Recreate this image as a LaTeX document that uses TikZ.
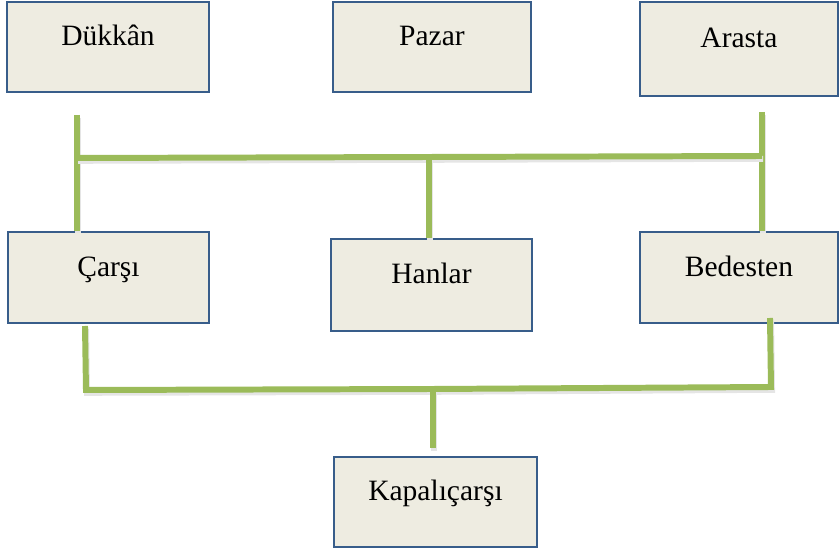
\documentclass[tikz,border=0pt]{standalone}
\usepackage{fontspec}
\setmainfont{Liberation Serif}
\usepackage{tikz}
\usepackage{xcolor}
\definecolor{boxfill}{HTML}{EEECE1}
\definecolor{boxline}{HTML}{385D8A}
\definecolor{barline}{HTML}{9BBB59}

\begin{document}
\begin{tikzpicture}[x=0.02cm, y=-0.02cm,
    market/.style={draw=boxline, fill=boxfill, line width=1.5pt, inner sep=0pt,
        minimum width=4cm, minimum height=1.8cm, text height=0.5cm, text depth=0.54cm,
        font=\fontsize{16.8}{20}\selectfont},
    bar/.style={draw=barline, line width=3.4pt, line join=miter,
        preaction={draw=black!10, line width=3.4pt, transform canvas={xshift=0.6pt, yshift=-1.6pt}}}]
    \useasboundingbox (0, 0) rectangle (840, 550);
    \node[market, minimum width=4.04cm] (dukkan) at (108, 47) {Dükkân};
    \node[market, minimum width=3.96cm] (pazar) at (432, 47) {Pazar};
    \node[market, minimum width=3.96cm, minimum height=1.88cm] (arasta) at (739, 49) {Arasta};
    \node[market, minimum width=4.02cm, minimum height=1.82cm] (carsi) at (108.5, 277.5) {Çarşı};
    \node[market, minimum width=4.02cm, minimum height=1.84cm] (hanlar) at (431.5, 285) {Hanlar};
    \node[market, minimum width=3.96cm, minimum height=1.82cm] (bedesten) at (739, 277.5) {Bedesten};
    \node[market, minimum width=4.06cm] (kapali) at (435.5, 502) {Kapalıçarşı};

    \coordinate (dktop) at (77, 115);
    \coordinate (artop) at (762, 112);
    \coordinate (upl) at (77, 158);
    \coordinate (upm) at (429, 157);
    \coordinate (upr) at (762, 156);
    \draw[bar] (dktop) -- (dktop |- carsi.north);
    \draw[bar] (artop) -- (artop |- bedesten.north);
    \draw[bar] (upl) -- (upm) -- (upr);
    \draw[bar] (upm) -- (upm |- hanlar.north);

    \coordinate (csdrop) at (85, 326);
    \coordinate (bddrop) at (770, 318);
    \coordinate (lwl) at (86, 390);
    \coordinate (lwm) at (433, 389);
    \coordinate (lwr) at (771, 387);
    \coordinate (kptop) at (433, 448);
    \draw[bar] (csdrop) -- (lwl) -- (lwm) -- (lwr) -- (bddrop);
    \draw[bar] (lwm) -- (kptop);
\end{tikzpicture}
\end{document}
